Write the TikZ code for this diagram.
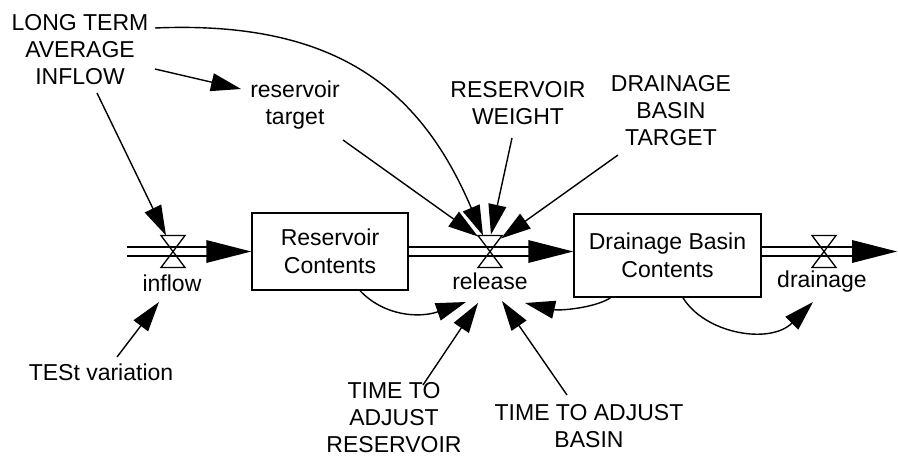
\documentclass[tikz,border=0pt]{standalone}
\usepackage{fontspec}
\setmainfont{Liberation Sans}
\usetikzlibrary{arrows.meta,calc}
\begin{document}
\begin{tikzpicture}[x=1pt,y=-1pt,
  lbl/.style={font=\fontsize{23}{27}\selectfont, align=center, inner sep=0pt},
  stock/.style={draw, line width=1.5pt, font=\fontsize{23}{28}\selectfont, align=center, inner sep=0pt},
  valve/.style={minimum width=24pt, minimum height=32pt, inner sep=0pt, outer sep=0pt},
  valveshape/.style={line width=1.3pt, line join=miter},
  conn/.style={line width=1.4pt, -{Triangle[length=30pt,width=18pt]}},
  pipe/.style={line width=1.6pt, double distance=7.3pt}
]
\useasboundingbox (0,0) rectangle (898,456);

% nodes
\node[lbl] (ltai) at (80,49.5) {LONG TERM\\AVERAGE\\INFLOW};
\node[lbl] (rtarget) at (295,105) {reservoir\\target};
\node[lbl] (rweight) at (518,103.5) {RESERVOIR\\WEIGHT};
\node[lbl] (dbt) at (671,111) {DRAINAGE\\BASIN\\TARGET};
\node[stock, minimum width=156pt, minimum height=77pt] (rc) at (330,251.5) {Reservoir\\Contents};
\node[stock, minimum width=187pt, minimum height=83pt] (dbc) at (667.5,255.5) {Drainage Basin\\Contents};
\node[valve] (inflowv) at (173,251.5) {};
\node[valve] (relv) at (490,251.5) {};
\node[valve] (drv) at (824,251.5) {};
\node[lbl] (inflowl) at (172,283.5) {inflow};
\node[lbl] (rell) at (490,281.5) {release};
\node[lbl] (drl) at (822,282) {drainage};
\node[lbl] (tv) at (101,372.5) {TESt variation};
\node[lbl] (tar) at (394,418) {TIME TO\\ADJUST\\RESERVOIR};
\node[lbl] (tab) at (589,426.5) {TIME TO ADJUST\\BASIN};
\coordinate (src) at (127,251.5);
\coordinate (sink) at (897,251.5);

% flows
\draw[pipe] (src) -- ($(rc.west)+(-44,0)$);
\fill ($(rc.west)+(-45,-11.5)$) -- (rc.west) -- ($(rc.west)+(-45,11.5)$) -- cycle;
\draw[pipe] (rc.east) -- ($(dbc.west |- rc.east)+(-44,0)$);
\fill ($(dbc.west |- rc.east)+(-45,-11.5)$) -- (dbc.west |- rc.east) -- ($(dbc.west |- rc.east)+(-45,11.5)$) -- cycle;
\draw[pipe] (dbc.east |- rc.east) -- ($(sink)+(-44,0)$);
\fill ($(sink)+(-45,-11.5)$) -- (sink) -- ($(sink)+(-45,11.5)$) -- cycle;

% valves
\foreach \v in {inflowv,relv,drv}{
  \draw[valveshape] (\v.north west) -- (\v.north east) -- (\v.south west) -- (\v.south east) -- cycle;
}

% connectors
\draw[conn] ($(ltai)+(17,43.5)$) -- ($(inflowv.north)+(-7,0)$);
\draw[conn] ($(ltai)+(75,19.5)$) -- ($(rtarget)+(-54,-16)$);
\draw[conn] ($(ltai)+(75,-21.5)$) .. controls +(185,-8) and +(-61,-143) .. ($(relv)+(-7,-16)$);
\draw[conn] ($(rtarget)+(48,35)$) -- ($(relv)+(-12,-15)$);
\draw[conn] ($(rweight)+(-6,34.5)$) -- ($(relv)+(1,-17)$);
\draw[conn] ($(dbt)+(-53,44)$) -- ($(relv)+(11,-13)$);
\draw[conn] ($(rc.south)+(30,0)$) .. controls +(25,26) and +(-46,16) .. ($(rell)+(-24,20.5)$);
\draw[conn] ($(tar)+(29,-33)$) -- ($(rell)+(-12,21.5)$);
\draw[conn] ($(tab)+(-22,-31.5)$) -- ($(rell)+(12,19.5)$);
\draw[conn] ($(dbc.south)+(-57,0)$) .. controls +(-15,10) and +(35,8) .. ($(rell)+(35,21.5)$);
\draw[conn] ($(dbc.south)+(15.5,0)$) .. controls +(22,36) and +(-43,43) .. ($(drl)+(-9,20)$);
\draw[conn] ($(tv)+(16,-15.5)$) -- ($(inflowl)+(-13,18.5)$);
\end{tikzpicture}
\end{document}
